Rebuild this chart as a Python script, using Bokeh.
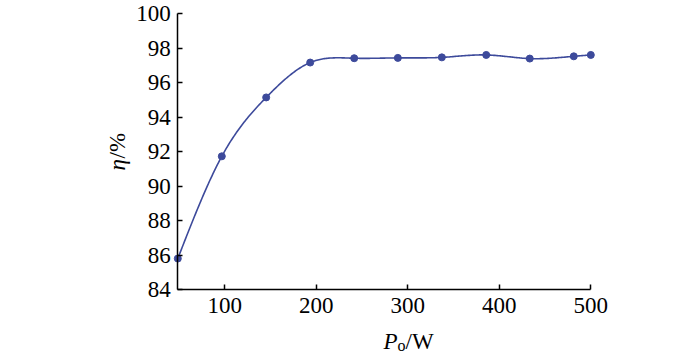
import numpy as np
from bokeh.plotting import figure
from bokeh.models import Range1d, FixedTicker, Label
from bokeh.embed import file_html
from bokeh.resources import INLINE

# data
power_w = [48.6, 96.7, 145.2, 193.3, 241.4, 289.1, 337.2, 385.7, 433.3, 481.4, 500.0]
efficiency = [85.81, 91.73, 95.14, 97.16, 97.41, 97.43, 97.46, 97.60, 97.39, 97.52, 97.60]
x_ticks = [100, 200, 300, 400, 500]
y_ticks = [84, 86, 88, 90, 92, 94, 96, 98, 100]

COLOR = "#3d4a9b"
FONT = "Liberation Serif"

# layout (pixels): where the axes box sits inside the 700x354 canvas
W, H = 700, 354
LEFT, RIGHT, TOP, BOTTOM = 177.3, 590.3, 13.0, 289.3
X0, X1 = power_w[0], 500.0
Y0, Y1 = 84.0, 100.0
kx = (RIGHT - LEFT) / (X1 - X0)
ky = (BOTTOM - TOP) / (Y1 - Y0)


def natural_spline(xs, ys, n=40):
    xs = np.asarray(xs, float)
    ys = np.asarray(ys, float)
    m = len(xs)
    h = np.diff(xs)
    A = np.zeros((m, m))
    b = np.zeros(m)
    A[0, 0] = 1
    A[-1, -1] = 1
    for i in range(1, m - 1):
        A[i, i - 1] = h[i - 1]
        A[i, i] = 2 * (h[i - 1] + h[i])
        A[i, i + 1] = h[i]
        b[i] = 6 * ((ys[i + 1] - ys[i]) / h[i] - (ys[i] - ys[i - 1]) / h[i - 1])
    M = np.linalg.solve(A, b)
    out_x, out_y = [], []
    for i in range(m - 1):
        t = np.linspace(xs[i], xs[i + 1], n, endpoint=(i == m - 2))
        a = xs[i + 1] - t
        c = t - xs[i]
        yy = (M[i] * a ** 3 + M[i + 1] * c ** 3) / (6 * h[i]) \
            + (ys[i] / h[i] - M[i] * h[i] / 6) * a \
            + (ys[i + 1] / h[i] - M[i + 1] * h[i] / 6) * c
        out_x.extend(t)
        out_y.extend(yy)
    return out_x, out_y


p = figure(width=W, height=H, output_backend="svg", toolbar_location=None,
           x_range=Range1d(X0 - LEFT / kx, X1 + (W - RIGHT) / kx),
           y_range=Range1d(Y0 - (H - BOTTOM) / ky, Y1 + TOP / ky),
           min_border=0)
p.outline_line_color = None
p.xgrid.visible = False
p.ygrid.visible = False
p.background_fill_color = "white"
p.border_fill_color = "white"

for ax in (p.xaxis[0], p.yaxis[0]):
    ax.axis_line_color = "black"
    ax.axis_line_width = 1.5
    ax.major_tick_line_color = "black"
    ax.major_tick_line_width = 1.5
    ax.major_tick_in = 5
    ax.major_tick_out = 0
    ax.minor_tick_line_color = None
    ax.major_label_text_font = FONT
    ax.major_label_text_font_size = "23px"
    ax.major_label_text_color = "black"

p.xaxis[0].ticker = FixedTicker(ticks=x_ticks)
p.yaxis[0].ticker = FixedTicker(ticks=y_ticks)
p.xaxis[0].fixed_location = Y0
p.xaxis[0].bounds = (X0, X1)
p.yaxis[0].fixed_location = X0
p.yaxis[0].bounds = (Y0, Y1)
p.xaxis[0].major_label_standoff = 8
p.yaxis[0].major_label_standoff = 7

sx, sy = natural_spline(power_w, efficiency)
p.line(sx, sy, line_color=COLOR, line_width=1.6)
p.scatter(power_w, efficiency, size=7, fill_color=COLOR, line_color=COLOR)

# x-axis title: P_o/W (screen units, origin at bottom-left of canvas)
p.add_layout(Label(x=383, y=H - 341, x_units="screen", y_units="screen", text="P",
                   text_font=FONT, text_font_style="italic", text_font_size="23px",
                   text_color="black", text_baseline="alphabetic", text_align="left"))
p.add_layout(Label(x=397, y=H - 345, x_units="screen", y_units="screen", text="o",
                   text_font=FONT, text_font_size="16px", text_color="black",
                   text_baseline="alphabetic", text_align="left"))
p.add_layout(Label(x=405, y=H - 341, x_units="screen", y_units="screen", text="/W",
                   text_font=FONT, text_font_size="23px", text_color="black",
                   text_baseline="alphabetic", text_align="left"))

# y-axis title: η/%
p.add_layout(Label(x=117, y=H - 170, x_units="screen", y_units="screen", text="η",
                   text_font=FONT, text_font_style="italic", text_font_size="23px",
                   text_color="black", text_baseline="alphabetic", text_align="left",
                   angle=np.pi / 2))
p.add_layout(Label(x=117, y=H - 158, x_units="screen", y_units="screen", text="/%",
                   text_font=FONT, text_font_size="23px", text_color="black",
                   text_baseline="alphabetic", text_align="left", angle=np.pi / 2))

open("out.html", "w").write(file_html(p, INLINE))
